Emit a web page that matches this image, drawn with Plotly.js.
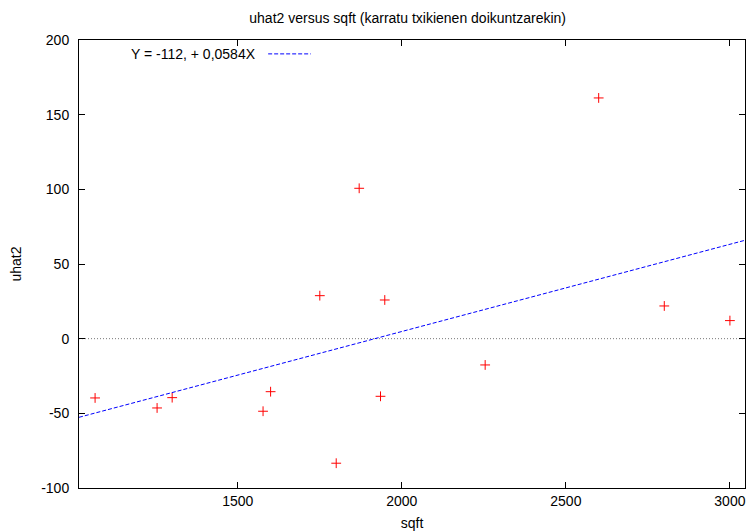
<!DOCTYPE html>
<html>
<head>
<meta charset="utf-8">
<script src="https://cdn.plot.ly/plotly-3.0.1.min.js"></script>
<style>html,body{margin:0;padding:0;background:#fff;}#chart{width:748px;height:531px;}</style>
</head>
<body>
<div id="chart"></div>
<script>
const sqft = [1065, 1254, 1300, 1577, 1600, 1750, 1800, 1870, 1935, 1948, 2254, 2600, 2800, 3000];
const uhat2 = [-39.7, -46.4, -39.5, -48.6, -35.5, 28.8, -83.4, 100.7, -38.6, 25.9, -17.6, 161.2, 21.9, 12.1];
const fitIntercept = -112.0;
const fitSlope = 0.0584;
const xRange = [1016, 3046];
const yRange = [-100, 200];
const xTicks = [1500, 2000, 2500, 3000];
const yTicks = [-100, -50, 0, 50, 100, 150, 200];
const legendLabel = "Y = -112, + 0,0584X";

const font = {family: "Liberation Sans, Arial, sans-serif", size: 14, color: "#000"};

const fitX = [xRange[0], xRange[1]];
const fitY = fitX.map(x => fitIntercept + fitSlope * x);

const traces = [
  {
    x: sqft, y: uhat2, type: "scatter", mode: "markers",
    marker: {symbol: "cross-thin-open", size: 7, color: "#ff0000", line: {color: "#ff0000", width: 1}},
    showlegend: false, hoverinfo: "x+y"
  },
  {
    x: fitX, y: fitY, type: "scatter", mode: "lines",
    line: {color: "#0000ff", width: 1, dash: "4px,2px"},
    showlegend: false
  }
];

const axisCommon = {
  showline: true, linecolor: "#000", linewidth: 1, mirror: "ticks",
  ticks: "inside", ticklen: 6, tickcolor: "#000", tickwidth: 1,
  showgrid: false, zeroline: false, tickfont: font
};

const layout = {
  width: 748, height: 531,
  margin: {l: 79, r: 3, t: 40, b: 43},
  paper_bgcolor: "#fff", plot_bgcolor: "#fff",
  font: font,
  title: {text: "uhat2 versus sqft (karratu txikienen doikuntzarekin)", font: font, x: 0.545, xanchor: "center", y: 0.966, yanchor: "middle"},
  xaxis: Object.assign({}, axisCommon, {range: xRange, tickvals: xTicks, ticktext: xTicks.map(String),
    title: {text: "sqft", font: font, standoff: 10}}),
  yaxis: Object.assign({}, axisCommon, {range: yRange, tickvals: yTicks, ticktext: yTicks.map(String),
    ticklabelstandoff: 6,
    title: {text: "uhat2", font: font, standoff: 16}}),
  shapes: [
    {type: "line", xref: "paper", yref: "y", x0: 0, x1: 1, y0: 0, y1: 0,
     line: {color: "#777", width: 1, dash: "1px,2px"}, layer: "below"},
    {type: "line", xref: "paper", yref: "paper", x0: 0.284, x1: 0.348, y0: 0.969, y1: 0.969,
     line: {color: "#0000ff", width: 1, dash: "4px,2px"}}
  ],
  annotations: [
    {text: legendLabel, xref: "paper", yref: "paper", x: 0.269, y: 0.969, xanchor: "right", yanchor: "middle",
     showarrow: false, font: font}
  ]
};

Plotly.newPlot("chart", traces, layout, {displayModeBar: false, staticPlot: true});
</script>
</body>
</html>
